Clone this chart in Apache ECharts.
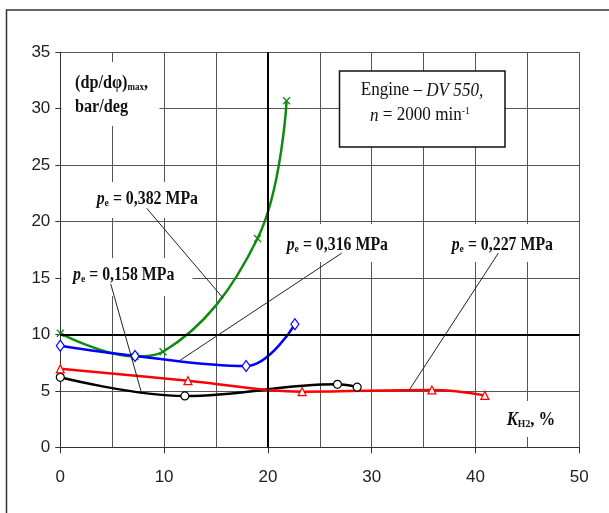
<!DOCTYPE html>
<html><head><meta charset="utf-8">
<script src="https://cdn.jsdelivr.net/npm/echarts@6/dist/echarts.min.js"></script>
<style>html,body{margin:0;padding:0;background:#fff}#c{width:609px;height:513px}</style>
</head><body><div id="c"></div>
<script>
// Hydrogen share K_H2 (%) and maximum pressure rise rate (bar/deg) per load
const kH2_382 = [0, 7.2, 9.9, 19.0, 21.8];
const dp_382  = [10.1, 8.05, 8.47, 18.5, 30.7];
const kH2_316 = [0, 7.2, 17.9, 22.6];
const dp_316  = [9.0, 8.1, 7.2, 10.9];
const kH2_227 = [0, 12.3, 23.3, 35.8, 40.9];
const dp_227  = [6.95, 5.9, 4.93, 5.08, 4.6];
const kH2_158 = [0, 12.0, 26.7, 28.6];
const dp_158  = [6.2, 4.55, 5.58, 5.33];

// Axis ranges
const xTicks = [0, 10, 20, 30, 40, 50];
const yTicks = [0, 5, 10, 15, 20, 25, 30, 35];

// Leader lines from the load labels to their curves (data units)
const leaders = [
  [[8.32, 21.18], [15.7, 13.2]],
  [[4.86, 14.47], [7.77, 5.0]],
  [[27.1, 17.2], [11.44, 7.65]],
  [[42.2, 17.2], [33.62, 5.08]]
];

const pairs = (xs, ys) => xs.map((x, i) => [x, ys[i]]);
const SERIF = '"Liberation Serif", "Times New Roman", serif';
const SANS = '"Liberation Sans", Arial, sans-serif';

function peLabel(text, x, y) {
  return {
    type: 'text', x: x, y: y, scaleX: 0.88, z: 5, silent: true,
    style: {
      text: '{p|p}{s|e}{t| = ' + text + ' MPa}',
      verticalAlign: 'middle', align: 'left',
      rich: {
        p: { fontFamily: SERIF, fontSize: 18, fontWeight: 'bold', fontStyle: 'italic', fill: '#111' },
        s: { fontFamily: SERIF, fontSize: 11, fontWeight: 'bold', fill: '#111', verticalAlign: 'bottom', padding: [6, 0, 0, 0] },
        t: { fontFamily: SERIF, fontSize: 18, fontWeight: 'bold', fill: '#111' }
      }
    }
  };
}
function whiteBox(x, y, w, h) {
  return { type: 'rect', z: 1, silent: true, shape: { x: x, y: y, width: w, height: h }, style: { fill: '#fff' } };
}

const chart = echarts.init(document.getElementById('c'), null, { renderer: 'canvas' });
chart.setOption({
  animation: false,
  backgroundColor: '#fff',
  grid: { left: 60.3, right: 29.7, top: 52.3, bottom: 65.7 },
  xAxis: {
    type: 'value', min: xTicks[0], max: xTicks[xTicks.length - 1], interval: 10,
    axisLine: { show: true, lineStyle: { color: '#333', width: 1 } },
    axisTick: { show: true, length: 6, lineStyle: { color: '#333' } },
    axisLabel: { margin: 22, fontFamily: SANS, fontSize: 17, color: '#222' },
    splitLine: { show: true, lineStyle: { color: '#555', width: 1 } },
    minorTick: { show: false, splitNumber: 2 },
    minorSplitLine: { show: true, lineStyle: { color: '#555', width: 1 } }
  },
  yAxis: {
    type: 'value', min: yTicks[0], max: yTicks[yTicks.length - 1], interval: 5,
    axisLine: { show: true, lineStyle: { color: '#333', width: 1 } },
    axisTick: { show: true, length: 5, lineStyle: { color: '#333' } },
    axisLabel: { margin: 10, fontFamily: SANS, fontSize: 17, color: '#222' },
    splitLine: { show: true, lineStyle: { color: '#555', width: 1 } }
  },
  series: [
    {
      type: 'line', data: [], silent: true, z: 3,
      markLine: {
        silent: true, symbol: 'none', label: { show: false },
        lineStyle: { color: '#000', width: 2, type: 'solid' },
        data: [{ xAxis: 20 }, { yAxis: 10 }]
      }
    },
    {
      name: 'pe = 0,382 MPa', type: 'line', smooth: 0.4, z: 4,
      data: pairs(kH2_382, dp_382),
      symbol: 'path://M0,0L10,10M10,0L0,10', symbolSize: 7,
      lineStyle: { color: '#118a11', width: 2.5 },
      itemStyle: { color: '#118a11', borderColor: '#118a11', borderWidth: 1.3 }
    },
    {
      name: 'pe = 0,158 MPa', type: 'line', smooth: 0.4, z: 4,
      data: pairs(kH2_158, dp_158),
      symbol: 'circle', symbolSize: 8,
      lineStyle: { color: '#000', width: 2.5 },
      itemStyle: { color: '#fff', borderColor: '#000', borderWidth: 1.2 }
    },
    {
      name: 'pe = 0,227 MPa', type: 'line', smooth: 0.4, z: 4,
      data: pairs(kH2_227, dp_227),
      symbol: 'triangle', symbolSize: 8,
      lineStyle: { color: '#ff0000', width: 2.5 },
      itemStyle: { color: '#fff', borderColor: '#ff0000', borderWidth: 1.2 }
    },
    {
      name: 'pe = 0,316 MPa', type: 'line', smooth: 0.4, z: 4,
      data: pairs(kH2_316, dp_316),
      symbol: 'diamond', symbolSize: [8, 11],
      lineStyle: { color: '#0000ff', width: 2.5 },
      itemStyle: { color: '#fff', borderColor: '#0000ff', borderWidth: 1.2 }
    },
    {
      type: 'line', data: [], silent: true, z: 6,
      markLine: {
        silent: true, symbol: 'none', label: { show: false },
        lineStyle: { color: '#222', width: 1, type: 'solid' },
        data: leaders.map(l => [{ coord: l[0] }, { coord: l[1] }])
      }
    }
  ],
  graphic: [
    // outer frame
    { type: 'rect', z: 0, silent: true, shape: { x: 6.5, y: 10, width: 700, height: 600 }, style: { fill: 'none', stroke: '#333', lineWidth: 1.5 } },
    // label backgrounds
    whiteBox(61.5, 62, 98, 64),
    whiteBox(90, 182, 115, 36),
    whiteBox(61.5, 258, 131, 38),
    whiteBox(278, 224, 120, 38),
    whiteBox(442, 224, 122, 38),
    whiteBox(500, 401, 62, 36),
    // y-axis title
    {
      type: 'text', x: 75, y: 83, scaleX: 0.9, z: 5, silent: true,
      style: {
        text: '{m|(dp/dφ)}{s|max}{c|,}', verticalAlign: 'middle', align: 'left',
        rich: {
          m: { fontFamily: SERIF, fontSize: 18, fontWeight: 'bold', fill: '#111' },
          s: { fontFamily: SERIF, fontSize: 10, fontWeight: 'bold', fill: '#111', verticalAlign: 'bottom', padding: [6, 0, 0, 0] },
          c: { fontFamily: SERIF, fontSize: 18, fontWeight: 'bold', fill: '#111' }
        }
      }
    },
    {
      type: 'text', x: 75, y: 107, scaleX: 0.9, z: 5, silent: true,
      style: { text: 'bar/deg', verticalAlign: 'middle', align: 'left', fontFamily: SERIF, fontSize: 18, fontWeight: 'bold', fill: '#111' }
    },
    // load labels
    peLabel('0,382', 96.7, 199.5),
    peLabel('0,158', 73, 275.5),
    peLabel('0,316', 286.7, 245.5),
    peLabel('0,227', 451.7, 245.5),
    // x-axis title
    {
      type: 'text', x: 506.7, y: 420.5, scaleX: 0.88, z: 5, silent: true,
      style: {
        text: '{k|K}{s|H2}{t|, %}', verticalAlign: 'middle', align: 'left',
        rich: {
          k: { fontFamily: SERIF, fontSize: 19, fontWeight: 'bold', fontStyle: 'italic', fill: '#111' },
          s: { fontFamily: SERIF, fontSize: 11, fontWeight: 'bold', fill: '#111', verticalAlign: 'bottom', padding: [6, 0, 0, 0] },
          t: { fontFamily: SERIF, fontSize: 19, fontWeight: 'bold', fill: '#111' }
        }
      }
    },
    // engine info box
    { type: 'rect', z: 5, silent: true, shape: { x: 339.5, y: 71, width: 165.5, height: 76 }, style: { fill: '#fff', stroke: '#111', lineWidth: 1.5 } },
    {
      type: 'text', x: 422, y: 90.5, scaleX: 0.9, z: 6, silent: true,
      style: {
        text: '{n|Engine – }{i|DV 550,}', verticalAlign: 'middle', align: 'center',
        rich: {
          n: { fontFamily: SERIF, fontSize: 19, fill: '#111' },
          i: { fontFamily: SERIF, fontSize: 19, fontStyle: 'italic', fill: '#111' }
        }
      }
    },
    {
      type: 'text', x: 420, y: 115.5, scaleX: 0.9, z: 6, silent: true,
      style: {
        text: '{i|n}{n| = 2000 min}{u|-1}', verticalAlign: 'middle', align: 'center',
        rich: {
          i: { fontFamily: SERIF, fontSize: 19, fontStyle: 'italic', fill: '#111' },
          n: { fontFamily: SERIF, fontSize: 19, fill: '#111' },
          u: { fontFamily: SERIF, fontSize: 11, fill: '#111', verticalAlign: 'top', padding: [0, 0, 8, 0] }
        }
      }
    }
  ]
});
</script></body></html>
